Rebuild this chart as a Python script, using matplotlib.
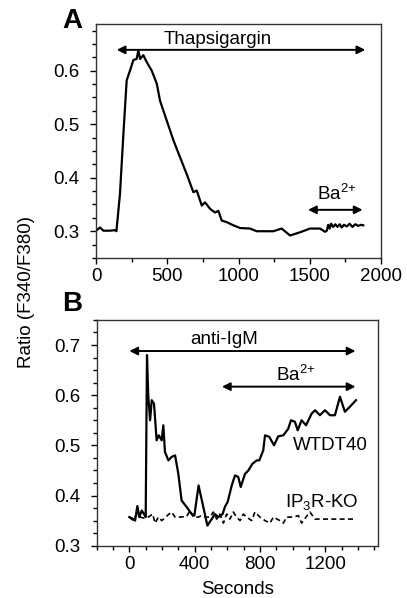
import numpy as np
import matplotlib
matplotlib.use("Agg")
import matplotlib.pyplot as plt
from matplotlib.ticker import MultipleLocator

plt.rcParams['font.family'] = ['Liberation Sans', 'DejaVu Sans']
plt.rcParams['mathtext.fontset'] = 'custom'
plt.rcParams['mathtext.rm'] = 'Liberation Sans'
plt.rcParams['mathtext.it'] = 'Liberation Sans'

# panel A: thapsigargin trace
a_time = [0, 28, 51, 98, 133, 143, 168, 192, 215, 243, 262, 285, 297, 309, 332, 356,
          391, 426, 449, 496, 543, 590, 636, 683, 707, 742, 765, 800, 835, 859, 882,
          917, 964, 1011, 1081, 1128, 1245, 1303, 1362, 1432, 1502, 1572, 1607, 1620,
          1630, 1640, 1650, 1665, 1680, 1695, 1710, 1725, 1740, 1760, 1780, 1800, 1820,
          1840, 1860, 1876]
a_ratio = [0.301, 0.307, 0.301, 0.301, 0.302, 0.300, 0.37, 0.482, 0.582, 0.604, 0.62,
           0.622, 0.638, 0.622, 0.629, 0.616, 0.60, 0.576, 0.544, 0.507, 0.47, 0.438,
           0.407, 0.373, 0.376, 0.348, 0.354, 0.342, 0.335, 0.338, 0.32, 0.317, 0.311,
           0.306, 0.305, 0.30, 0.30, 0.305, 0.292, 0.298, 0.305, 0.305, 0.299, 0.301,
           0.312, 0.305, 0.314, 0.308, 0.313, 0.308, 0.313, 0.307, 0.312, 0.309, 0.314,
           0.308, 0.313, 0.310, 0.312, 0.311]

# panel B: anti-IgM, wild type
wt_time = [0, 24, 35, 49, 61, 76, 90, 100, 108, 116, 127, 137, 151, 167, 180, 198, 208,
           218, 239, 259, 280, 300, 320, 351, 382, 398, 424, 453, 478, 504, 524, 545,
           571, 586, 602, 627, 647, 667, 682, 708, 729, 753, 780, 796, 820, 831, 857,
           886, 912, 943, 973, 990, 1014, 1031, 1055, 1082, 1116, 1137, 1167, 1198,
           1229, 1259, 1290, 1320, 1351, 1388]
wt_ratio = [0.357, 0.353, 0.35, 0.379, 0.357, 0.37, 0.363, 0.357, 0.68, 0.597, 0.55,
            0.59, 0.583, 0.51, 0.52, 0.51, 0.54, 0.487, 0.47, 0.477, 0.48, 0.443, 0.39,
            0.377, 0.363, 0.36, 0.42, 0.377, 0.34, 0.353, 0.363, 0.357, 0.363, 0.378,
            0.387, 0.42, 0.44, 0.437, 0.417, 0.443, 0.45, 0.463, 0.47, 0.47, 0.49, 0.52,
            0.517, 0.50, 0.518, 0.52, 0.533, 0.55, 0.547, 0.53, 0.55, 0.54, 0.563, 0.57,
            0.56, 0.57, 0.56, 0.56, 0.597, 0.567, 0.577, 0.59]

# panel B: IP3R knockout
ko_time = [0, 24, 45, 65, 90, 116, 143, 157, 178, 198, 218, 239, 259, 280, 310, 351,
           371, 392, 422, 443, 463, 494, 514, 535, 555, 576, 596, 616, 637, 657, 678,
           698, 718, 749, 769, 800, 831, 861, 882, 922, 943, 963, 1004, 1035, 1055,
           1082, 1106, 1137, 1388]
ko_ratio = [0.357, 0.35, 0.363, 0.357, 0.355, 0.357, 0.363, 0.345, 0.357, 0.35, 0.355,
            0.362, 0.367, 0.357, 0.357, 0.358, 0.37, 0.357, 0.357, 0.36, 0.357, 0.357,
            0.367, 0.353, 0.363, 0.345, 0.363, 0.353, 0.367, 0.357, 0.35, 0.363, 0.357,
            0.35, 0.367, 0.357, 0.35, 0.345, 0.357, 0.35, 0.345, 0.357, 0.357, 0.36,
            0.345, 0.357, 0.367, 0.353, 0.353]

fs = 13.5
ba = 'Ba$^{2{+}}$'

fig = plt.figure(figsize=(4.07, 5.98), dpi=100)
axA = fig.add_axes([0.236, 0.5686, 0.700, 0.391])
axB = fig.add_axes([0.2376, 0.0875, 0.690, 0.3775])

def arrow(ax, x0, x1, y):
    ax.annotate('', xy=(x1, y), xytext=(x0, y),
                arrowprops=dict(arrowstyle='<|-|>', color='black', lw=1.4,
                                mutation_scale=12, shrinkA=0, shrinkB=0))

def style(ax):
    for s in ax.spines.values():
        s.set_linewidth(1.0)
        s.set_color('#333333')
    ax.tick_params(which='both', direction='out', labelsize=fs, width=1.0)
    ax.tick_params(which='major', length=4)
    ax.tick_params(which='minor', length=3)
    ax.tick_params(axis='y', which='major', pad=8)
    ax.tick_params(axis='x', which='both', top=False)
    ax.tick_params(axis='y', which='both', right=False)

# panel A
axA.plot(a_time, a_ratio, color='black', lw=1.6)
axA.set_xlim(0, 2000)
axA.set_ylim(0.25, 0.687)
axA.set_xticks([0, 500, 1000, 1500, 2000])
axA.xaxis.set_minor_locator(MultipleLocator(250))
axA.set_yticks([0.3, 0.4, 0.5, 0.6])
axA.yaxis.set_minor_locator(MultipleLocator(0.025))
axA.set_yticklabels(['0.3', '0.4', '0.5', '0.6'])
style(axA)
arrow(axA, 145, 1890, 0.639)
axA.text(856, 0.658, 'Thapsigargin', ha='center', va='center', fontsize=fs)
arrow(axA, 1488, 1871, 0.34)
axA.text(1689, 0.37, ba, ha='center', va='center', fontsize=fs)

# panel B
axB.plot(wt_time, wt_ratio, color='black', lw=1.6)
axB.plot(ko_time, ko_ratio, color='black', lw=1.2, ls=(0, (3, 2)))
axB.set_xlim(-200, 1520)
axB.set_ylim(0.3, 0.75)
axB.set_xticks([0, 400, 800, 1200])
axB.xaxis.set_minor_locator(MultipleLocator(100))
axB.set_yticks([0.3, 0.4, 0.5, 0.6, 0.7])
axB.set_yticklabels(['0.3', '0.4', '0.5', '0.6', '0.7'])
axB.yaxis.set_minor_locator(MultipleLocator(0.025))
style(axB)
arrow(axB, 0, 1385, 0.688)
axB.text(580, 0.711, 'anti-IgM', ha='center', va='center', fontsize=fs)
arrow(axB, 567, 1385, 0.617)
axB.text(1017, 0.64, ba, ha='center', va='center', fontsize=fs)
axB.text(1230, 0.5, 'WTDT40', ha='center', va='center', fontsize=fs)
axB.text(1180, 0.387, 'IP$_3$R-KO', ha='center', va='center', fontsize=fs)
axB.set_xlabel('Seconds', fontsize=fs, labelpad=6)

fig.text(0.066, 0.511, 'Ratio (F340/F380)', rotation=90, ha='center', va='center', fontsize=fs)
fig.text(62 / 407, 1 - 28 / 598, 'A', fontsize=20, fontweight='bold', va='baseline')
fig.text(62 / 407, 1 - 311 / 598, 'B', fontsize=20, fontweight='bold', va='baseline')

fig.savefig('out.png', dpi=100)
